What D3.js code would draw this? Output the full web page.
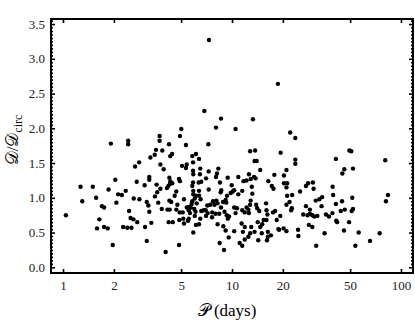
<!DOCTYPE html>
<html>
<head>
<meta charset="utf-8">
<script src="https://cdn.jsdelivr.net/npm/d3@7"></script>
<style>
body { margin: 0; background: #fff; }
.axis text { font-family: "Liberation Serif", "Times New Roman", serif; font-size: 13px; fill: #222; }
.axis line { stroke: #000; stroke-width: 1.6; }
.title { font-family: "Liberation Serif", "DejaVu Serif", serif; fill: #000; }
</style>
</head>
<body>
<div id="chart"></div>
<script>
// orbital period (days) and D/Dcirc
var periods = [
  1.92, 2.43, 2.43, 2.67, 2.04, 1.27, 1.50, 1.86, 2.12, 2.23, 2.35, 2.62, 1.30, 1.57, 2.07, 1.70,
  1.75, 2.46, 1.04, 2.51, 2.61, 1.64, 2.27, 2.40, 2.54, 1.59, 1.75, 1.84, 1.97, 2.82, 2.73,
  5.01, 4.92, 3.73, 3.73, 4.24, 5.34, 7.24, 3.55, 3.87, 3.49, 3.29, 4.42, 4.31, 6.12, 5.82, 6.38,
  5.88, 3.77, 3.94, 5.06, 5.40, 5.34, 5.88, 5.90, 6.49, 6.46, 7.28, 4.26, 4.31, 4.86, 4.92, 3.24,
  3.24, 3.04, 3.58, 3.77, 3.61, 3.50, 4.20, 4.29, 4.43, 4.12, 4.68, 4.58, 5.88, 5.82, 6.35, 6.58,
  7.02, 5.90, 5.90, 6.10, 6.38, 6.38, 7.28, 2.83, 3.13, 3.20, 3.24, 3.66, 3.84, 4.26, 4.37, 4.15,
  4.28, 4.75, 4.68, 4.90, 5.11, 5.20, 5.40, 5.57, 5.55, 5.82, 6.02, 5.77, 6.18, 6.52, 5.70, 5.98,
  6.08, 5.64, 6.58, 6.99, 7.14, 2.75, 3.06, 3.33, 4.22, 4.46, 4.88, 5.15, 5.20, 5.49, 5.55, 6.02,
  6.12, 6.38, 6.49, 5.90, 3.13, 4.86, 4.05, 7.02, 6.80,
  8.04, 10.5, 12.8, 13.7, 19.4, 13.6, 14.0, 14.7, 8.30, 8.15, 8.04, 12.6, 12.9, 13.5, 13.8, 10.9,
  11.7, 12.2, 9.43, 17.8, 16.4, 17.2, 17.6, 20.3, 20.3, 8.49, 8.64, 8.57, 9.96, 10.3, 10.1, 9.83,
  9.34, 9.17, 11.5, 10.9, 13.1, 13.2, 12.9, 12.8, 7.72, 7.87, 8.08, 8.22, 7.44, 7.18, 8.85, 9.25,
  8.61, 9.03, 8.41, 7.64, 8.00, 7.62, 9.31, 9.60, 9.45, 10.3, 10.7, 10.5, 11.5, 12.2, 11.9, 12.6,
  12.5, 13.9, 14.1, 14.5, 15.9, 16.0, 16.2, 16.0, 17.5, 18.0, 18.4, 18.8, 20.2, 8.22, 8.89, 9.17,
  10.3, 9.56, 11.4, 11.9, 11.6, 13.0, 12.8, 13.6, 12.5, 11.9, 14.2, 14.7, 15.1, 15.4, 15.0, 16.3,
  16.3, 16.1, 17.0, 19.0, 8.45, 8.97, 11.1, 11.5, 14.3,
  7.31, 6.86, 8.61, 18.7, 13.3,
  22.1, 23.7, 23.7, 23.7, 41.2, 21.0, 46.2, 45.0, 21.2, 21.0, 28.2, 30.1, 30.4, 27.4, 25.3, 21.2,
  22.7, 21.9, 21.0, 22.6, 22.4, 31.3, 32.9, 34.2, 33.9, 39.4, 39.7, 41.2, 44.8, 44.0, 46.5, 39.3,
  27.4, 28.9, 28.9, 28.0, 26.4, 29.9, 30.7, 32.0, 36.0, 37.5, 41.4, 41.9, 19.3, 28.5, 29.9, 21.0,
  24.6, 24.7, 35.3, 46.0, 31.5,
  49.5, 50.8, 52.0, 80.7, 51.5, 83.8, 81.5, 51.1, 52.0, 49.3, 56.2, 74.8, 65.6, 53.7
];
var ratios = [
  1.78, 1.82, 1.77, 1.45, 1.26, 1.16, 1.16, 1.12, 1.05, 1.04, 1.10, 0.99, 0.95, 1.00, 0.93, 0.88,
  0.86, 0.81, 0.75, 0.71, 0.69, 0.69, 0.58, 0.57, 0.57, 0.56, 0.58, 0.56, 0.32, 1.51, 1.23,
  1.99, 1.89, 1.89, 1.82, 1.77, 1.76, 1.77, 1.69, 1.68, 1.62, 1.58, 1.63, 1.60, 1.63, 1.60, 1.56,
  1.51, 1.48, 1.41, 1.46, 1.48, 1.43, 1.39, 1.34, 1.42, 1.34, 1.38, 1.29, 1.24, 1.27, 1.24, 1.30,
  1.26, 1.18, 1.19, 1.13, 1.08, 1.02, 1.17, 1.20, 1.21, 1.14, 1.09, 1.03, 1.22, 1.17, 1.22, 1.23,
  1.28, 1.10, 1.05, 1.03, 1.10, 1.03, 1.12, 0.98, 0.94, 0.89, 0.80, 0.93, 0.84, 0.96, 0.94, 0.83,
  0.83, 0.90, 0.83, 0.79, 0.79, 0.98, 0.86, 0.87, 0.82, 0.95, 0.99, 0.91, 0.92, 0.98, 0.86, 0.84,
  0.80, 0.78, 0.81, 0.82, 0.89, 0.65, 0.58, 0.64, 0.65, 0.65, 0.68, 0.70, 0.63, 0.67, 0.70, 0.74,
  0.61, 0.62, 0.70, 0.50, 0.38, 0.32, 0.22, 0.74, 0.82,
  2.01, 1.99, 1.67, 1.68, 1.65, 1.53, 1.53, 1.40, 1.42, 1.35, 1.30, 1.34, 1.27, 1.30, 1.28, 1.30,
  1.24, 1.25, 1.29, 1.33, 1.24, 1.17, 1.13, 1.32, 1.21, 1.22, 1.11, 1.08, 1.18, 1.11, 1.09, 1.07,
  1.03, 0.97, 1.10, 1.05, 1.16, 1.06, 0.96, 0.90, 0.95, 0.90, 0.96, 0.92, 0.90, 0.78, 0.94, 0.93,
  0.86, 0.80, 0.77, 0.79, 0.77, 0.72, 0.75, 0.73, 0.70, 0.86, 0.85, 0.78, 0.82, 0.86, 0.79, 0.78,
  0.83, 0.90, 0.85, 0.81, 0.92, 0.82, 0.76, 0.68, 0.79, 0.81, 0.68, 0.55, 0.56, 0.62, 0.59, 0.53,
  0.52, 0.43, 0.63, 0.58, 0.51, 0.58, 0.49, 0.51, 0.44, 0.40, 0.65, 0.58, 0.62, 0.68, 0.49, 0.51,
  0.44, 0.39, 0.46, 0.54, 0.35, 0.25, 0.35, 0.31, 0.39,
  3.27, 2.25, 2.14, 2.64, 2.13,
  1.94, 1.86, 1.55, 1.49, 1.56, 1.40, 1.41, 1.35, 1.21, 1.15, 1.21, 1.22, 1.13, 1.17, 1.09, 1.03,
  1.04, 0.94, 0.90, 0.85, 0.82, 0.96, 0.98, 1.01, 0.88, 1.16, 1.04, 0.91, 0.95, 0.81, 0.83, 0.78,
  0.88, 0.83, 0.77, 0.75, 0.76, 0.75, 0.73, 0.74, 0.76, 0.73, 0.67, 0.65, 0.74, 0.61, 0.58, 0.52,
  0.54, 0.45, 0.49, 0.53, 0.31,
  1.68, 1.67, 1.42, 1.54, 1.00, 1.04, 0.95, 0.81, 0.84, 0.65, 0.50, 0.49, 0.38, 0.31
];
var xTicks = [1, 2, 5, 10, 20, 50, 100];
var yTicks = [0, 0.5, 1, 1.5, 2, 2.5, 3, 3.5];

var frameL = 51, frameR = 413, frameT = 19, frameB = 273;

var svg = d3.select('#chart')
    .append('svg')
    .attr('width', 415)
    .attr('height', 323);

var x = d3.scaleLog().domain([0.849, 117.8]).range([frameL, frameR]);
var y = d3.scaleLinear().domain([-0.082, 3.573]).range([frameB, frameT]);

var points = periods.map(function (p, i) { return {p: p, d: ratios[i]}; });

// minor ticks on the vertical sides
var yMinor = d3.range(0, 3.56, 0.05).filter(function (v) {
    return Math.abs(v * 2 - Math.round(v * 2)) > 1e-6;
});

function clean(g) {
    g.select('.domain').remove();
}

svg.append('g').attr('class', 'axis')
    .attr('transform', 'translate(0,' + frameB + ')')
    .call(d3.axisBottom(x).tickValues(xTicks).tickSize(-4).tickPadding(8).tickFormat(d3.format('d')))
    .call(clean);
svg.append('g').attr('class', 'axis')
    .attr('transform', 'translate(0,' + frameT + ')')
    .call(d3.axisTop(x).tickValues(xTicks).tickSize(-4).tickFormat(''))
    .call(clean);
svg.append('g').attr('class', 'axis')
    .attr('transform', 'translate(' + frameL + ',0)')
    .call(d3.axisLeft(y).tickValues(yTicks).tickSize(-4).tickPadding(6).tickFormat(d3.format('.1f')))
    .call(clean);
svg.append('g').attr('class', 'axis')
    .attr('transform', 'translate(' + frameL + ',0)')
    .call(d3.axisLeft(y).tickValues(yMinor).tickSize(-2).tickFormat(''))
    .call(clean);
svg.append('g').attr('class', 'axis')
    .attr('transform', 'translate(' + frameR + ',0)')
    .call(d3.axisRight(y).tickValues(yTicks).tickSize(-4).tickFormat(''))
    .call(clean);
svg.append('g').attr('class', 'axis')
    .attr('transform', 'translate(' + frameR + ',0)')
    .call(d3.axisRight(y).tickValues(yMinor).tickSize(-2).tickFormat(''))
    .call(clean);

svg.append('rect')
    .attr('x', frameL).attr('y', frameT)
    .attr('width', frameR - frameL).attr('height', frameB - frameT)
    .attr('fill', 'none')
    .attr('stroke', '#000')
    .attr('stroke-width', 2);

svg.append('g')
    .selectAll('circle')
    .data(points)
    .enter().append('circle')
    .attr('cx', function (d) { return x(d.p); })
    .attr('cy', function (d) { return y(d.d); })
    .attr('r', 2.2)
    .attr('fill', '#000');

// axis titles
var xt = svg.append('text').attr('class', 'title')
    .attr('x', 227).attr('y', 316)
    .attr('text-anchor', 'middle')
    .style('font-size', '17px');
xt.append('tspan').text('\u{1D4AB}');
xt.append('tspan').text('\u00A0(days)');

var yt = svg.append('text').attr('class', 'title')
    .attr('transform', 'translate(18,140) rotate(-90)')
    .attr('text-anchor', 'middle')
    .style('font-size', '17px');
yt.append('tspan').text('\u{1D49F}/\u{1D49F}');
yt.append('tspan').attr('dy', 4).style('font-size', '12px').text('circ');
</script>
</body>
</html>
